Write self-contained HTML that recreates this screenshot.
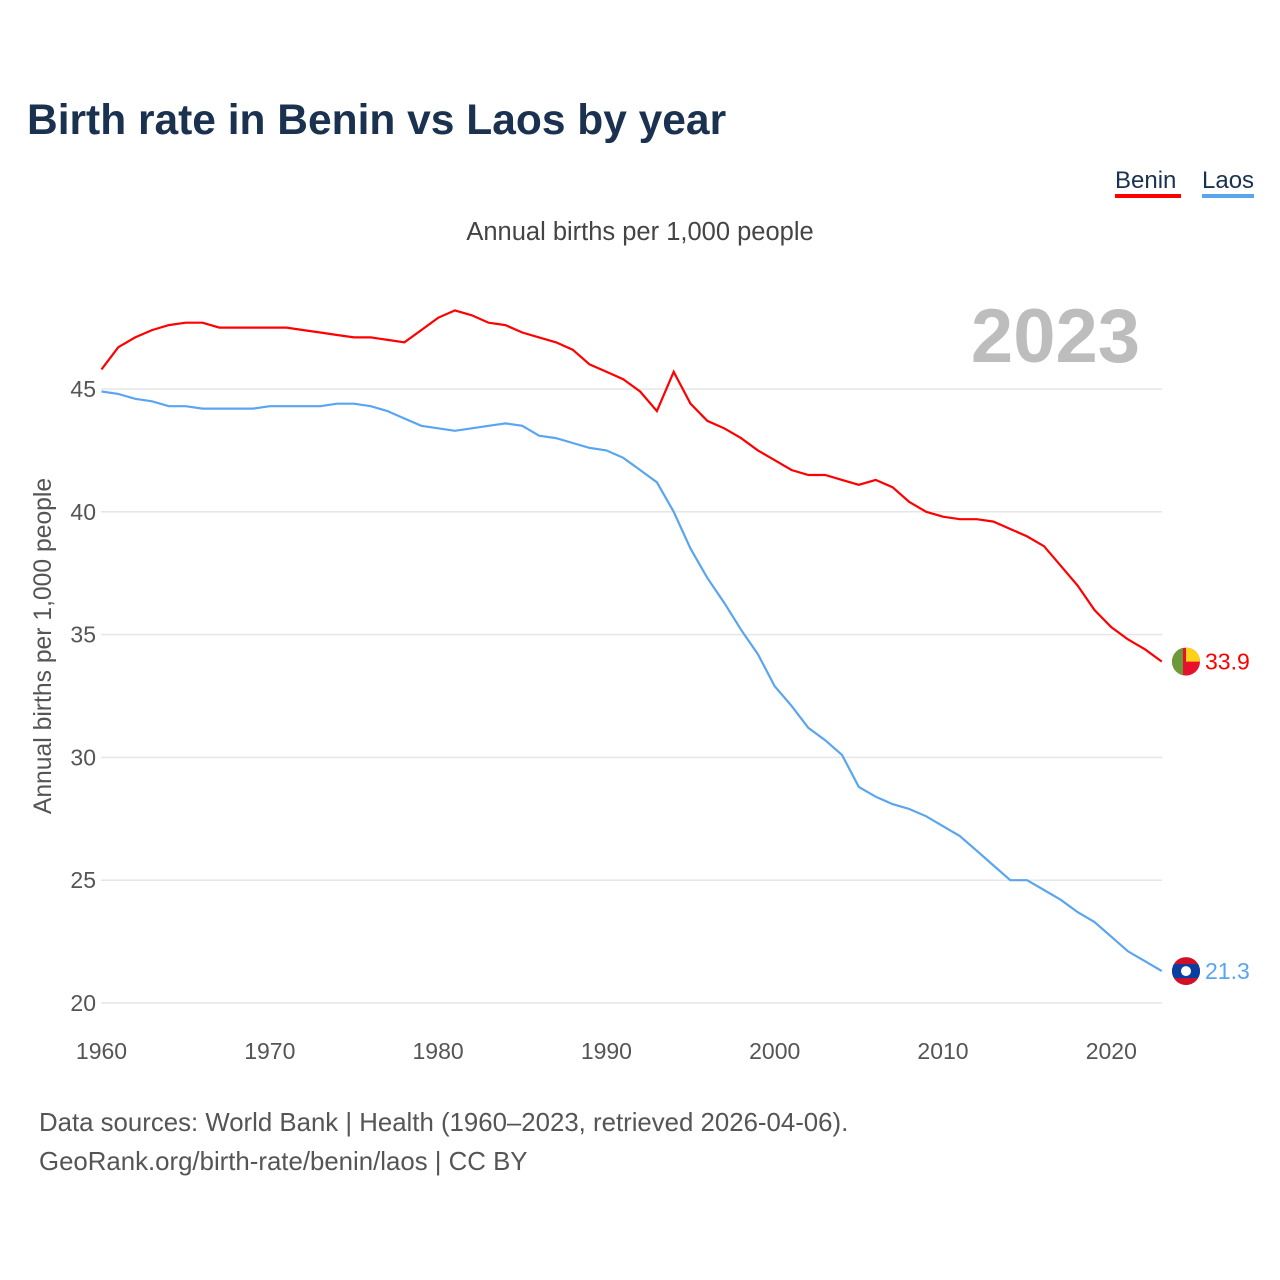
<!DOCTYPE html>
<html><head><meta charset="utf-8"><style>
body{margin:0;background:#fff;width:1280px;height:1280px;overflow:hidden;font-family:"Liberation Sans",sans-serif}
</style></head><body>
<svg width="1280" height="1280" id="chart" style="position:absolute;left:0;top:0">
<text x="27" y="134" font-size="42.5" font-weight="bold" fill="#1b3150">Birth rate in Benin vs Laos by year</text>
<g>
<text x="1115" y="188" font-size="24" fill="#1b3150">Benin</text>
<rect x="1115" y="194" width="66" height="4" fill="#f00"/>
<text x="1202" y="188" font-size="24" fill="#1b3150">Laos</text>
<rect x="1202" y="194" width="52" height="4" fill="#5aa5f0"/>
</g>
<text x="640" y="240" font-size="25.5" fill="#444" text-anchor="middle">Annual births per 1,000 people</text>
<text x="1140" y="362" font-size="76" font-weight="bold" fill="#bdbdbd" text-anchor="end">2023</text>
<text transform="translate(51,646) rotate(-90)" font-size="24.7" fill="#555" text-anchor="middle">Annual births per 1,000 people</text>
<g id="grid"></g><g id="xt"></g><g id="lines"></g>
<text x="39" y="1131" font-size="25.8" fill="#555">Data sources: World Bank | Health (1960–2023, retrieved 2026-04-06).</text>
<text x="39" y="1170" font-size="25.8" fill="#555">GeoRank.org/birth-rate/benin/laos | CC BY</text>
</svg>
<script>
const years=[];for(let y=1960;y<=2023;y++)years.push(y);
const benin=[45.8,46.7,47.1,47.4,47.6,47.7,47.7,47.5,47.5,47.5,47.5,47.5,47.4,47.3,47.2,47.1,47.1,47.0,46.9,47.4,47.9,48.2,48.0,47.7,47.6,47.3,47.1,46.9,46.6,46.0,45.7,45.4,44.9,44.1,45.7,44.4,43.7,43.4,43.0,42.5,42.1,41.7,41.5,41.5,41.3,41.1,41.3,41.0,40.4,40.0,39.8,39.7,39.7,39.6,39.3,39.0,38.6,37.8,37.0,36.0,35.3,34.8,34.4,33.9];
const laos=[44.9,44.8,44.6,44.5,44.3,44.3,44.2,44.2,44.2,44.2,44.3,44.3,44.3,44.3,44.4,44.4,44.3,44.1,43.8,43.5,43.4,43.3,43.4,43.5,43.6,43.5,43.1,43.0,42.8,42.6,42.5,42.2,41.7,41.2,40.0,38.5,37.3,36.3,35.2,34.2,32.9,32.1,31.2,30.7,30.1,28.8,28.4,28.1,27.9,27.6,27.2,26.8,26.2,25.6,25.0,25.0,24.6,24.2,23.7,23.3,22.7,22.1,21.7,21.3];
const yTicks=[20,25,30,35,40,45];
const xTicks=[1960,1970,1980,1990,2000,2010,2020];
const NS="http://www.w3.org/2000/svg";
const X=v=>101.5+(v-1960)*16.83, Y=v=>1003-(v-20)*24.56;
function mk(t,a,p){const e=document.createElementNS(NS,t);for(const k in a)e.setAttribute(k,a[k]);p.appendChild(e);return e;}
const g=document.getElementById('grid'),xt=document.getElementById('xt'),ln=document.getElementById('lines');
yTicks.forEach(v=>{const l=mk('line',{x1:101,x2:1162,y1:Y(v),y2:Y(v),stroke:'#e6e6e6','stroke-width':1.5},g);


const t=mk('text',{x:96,y:Y(v)+8,'font-size':23,fill:'#555','text-anchor':'end'},g);t.textContent=v;

});
xTicks.forEach(v=>{const t=mk('text',{x:X(v),y:1059,'font-size':23,fill:'#555','text-anchor':'middle'},xt);t.textContent=v;

});
function series(d,c,name){const p=mk('path',{d:d.map((v,i)=>(i?'L':'M')+X(years[i]).toFixed(1)+','+Y(v).toFixed(1)).join(''),fill:'none',stroke:c,'stroke-width':2.2},ln);


const last=d[d.length-1],t=mk('text',{x:1205,y:Y(last)+8,'font-size':23,fill:c},ln);t.textContent=last.toFixed(1);

return Y(last);}
const yb=series(benin,'#f00','benin'),yl=series(laos,'#5aa5f0','laos');
const cx=1186;
let f=mk('g',{},ln);


const cb=mk('clipPath',{id:'cb'},f);mk('circle',{cx:cx,cy:yb,r:14},cb);
const fb=mk('g',{'clip-path':'url(#cb)'},f);
mk('rect',{x:cx-14,y:yb-14,width:28,height:28,fill:'#e8112d'},fb);
mk('rect',{x:cx,y:yb-14,width:14,height:14,fill:'#fcd116'},fb);
mk('rect',{x:cx-14,y:yb-14,width:11,height:28,fill:'#6a9a3a'},fb);
let f2=mk('g',{},ln);


const cl=mk('clipPath',{id:'cl'},f2);mk('circle',{cx:cx,cy:yl,r:14},cl);
const fl=mk('g',{'clip-path':'url(#cl)'},f2);
mk('rect',{x:cx-14,y:yl-14,width:28,height:28,fill:'#ce1126'},fl);
mk('rect',{x:cx-14,y:yl-7,width:28,height:14,fill:'#0a3ea0'},fl);
mk('circle',{cx:cx,cy:yl,r:5,fill:'#fff'},fl);
</script>
</body></html>
